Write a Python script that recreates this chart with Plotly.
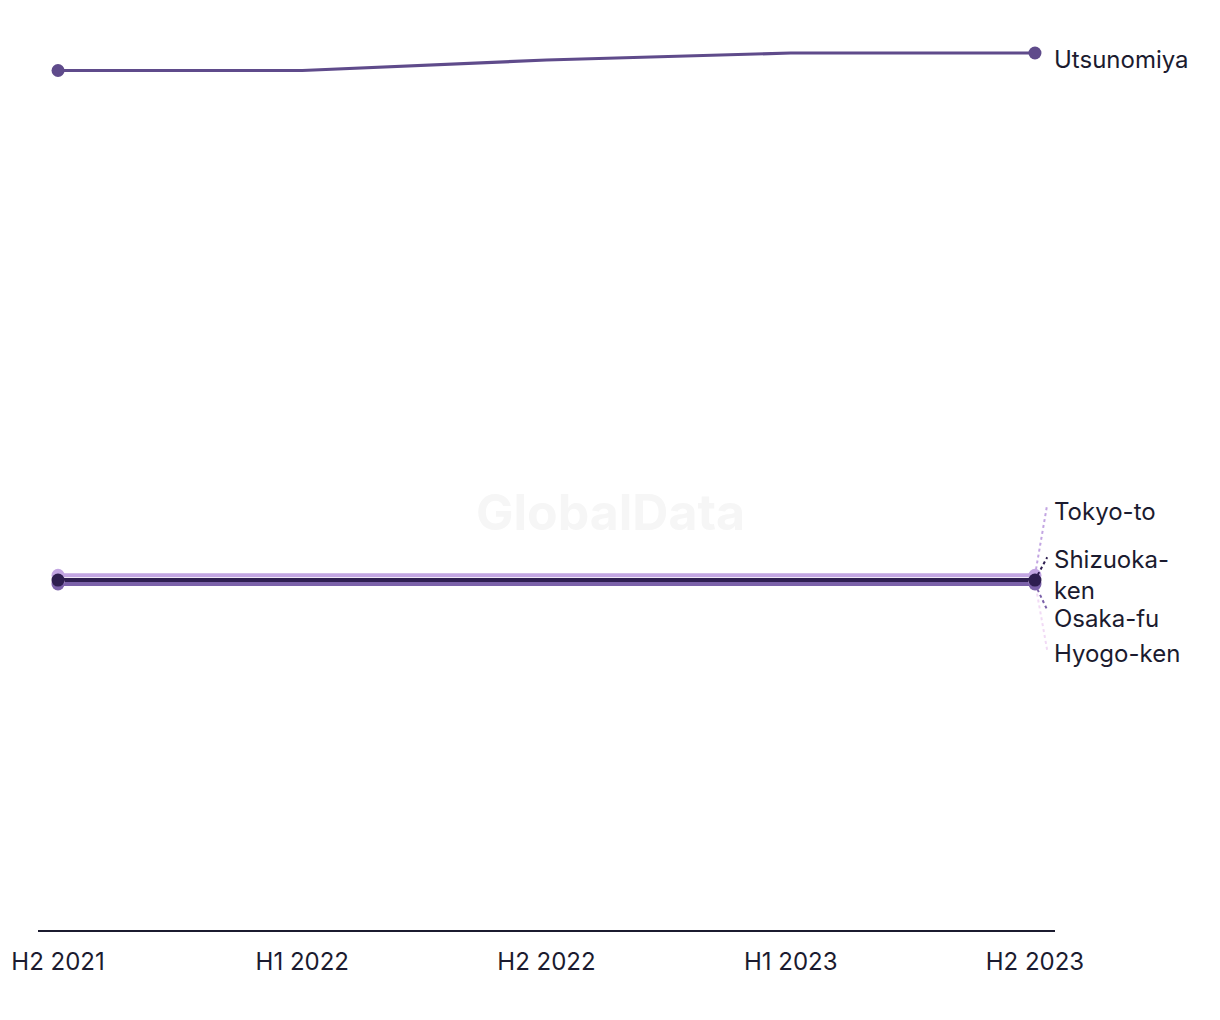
import plotly.graph_objects as go

periods = ["H2 2021", "H1 2022", "H2 2022", "H1 2023", "H2 2023"]
utsunomiya = [98.0, 98.0, 99.2, 100.0, 100.0]
tokyo = [40.45, 40.45, 40.45, 40.45, 40.45]
hyogo = [39.7, 39.7, 39.7, 39.7, 39.7]
osaka = [39.45, 39.45, 39.45, 39.45, 39.45]
shizuoka = [39.9, 39.9, 39.9, 39.9, 39.9]

# name, values, color, label y, leader end y
series = [
    ("Hyogo-ken", hyogo, "#f1daf5", 31.5, 31.9),
    ("Tokyo-to", tokyo, "#c2a5e2", 47.7, 48.5),
    ("Osaka-fu", osaka, "#7b61a9", 35.55, 36.5),
    ("Shizuoka-ken", shizuoka, "#2e1e50", 40.45, 42.5),
    ("Utsunomiya", utsunomiya, "#5f4b8b", 99.2, None),
]
label_text = {"Shizuoka-ken": "Shizuoka-<br>ken"}

xi = list(range(len(periods)))
fig = go.Figure()
for name, vals, color, ly, le in series:
    fig.add_trace(go.Scatter(
        x=xi, y=vals, mode="lines", line=dict(color=color, width=4 if name != "Utsunomiya" else 3.2),
        showlegend=False, hoverinfo="skip"))
for name, vals, color, ly, le in series:
    fig.add_trace(go.Scatter(
        x=[xi[0], xi[-1]], y=[vals[0], vals[-1]], mode="markers",
        marker=dict(color=color, size=13), showlegend=False, hoverinfo="skip"))
    if le is not None:
        fig.add_trace(go.Scatter(
            x=[xi[-1], xi[-1] + 0.05], y=[vals[-1], le],
            mode="lines", line=dict(color=color, width=2, dash="dot"),
            showlegend=False, hoverinfo="skip"))
    fig.add_annotation(x=xi[-1] + 0.07, y=ly, xref="x", yref="y", text=label_text.get(name, name),
                       showarrow=False, xanchor="left", yanchor="middle", align="left",
                       font=dict(size=24, color="#1b1b2f", family="Inter"))

fig.add_annotation(x=0.5625, y=0.459, xref="paper", yref="paper", text="<b>GlobalData</b>",
                   showarrow=False, font=dict(size=50, color="#f6f6f6", family="Inter"))

fig.update_layout(
    width=1220, height=1020, plot_bgcolor="white", paper_bgcolor="white",
    margin=dict(l=30, r=173, t=12, b=98, autoexpand=False),
    xaxis=dict(range=[-0.082, 4.082], tickvals=xi, ticktext=periods, showgrid=False, zeroline=False,
               showline=True, linecolor="#1b1b2f", linewidth=2, ticks="", ticklen=0,
               ticklabelstandoff=9, automargin=False,
               tickfont=dict(size=24, color="#1b1b2f", family="Inter")),
    yaxis=dict(range=[0, 103.76], visible=False, showgrid=False, zeroline=False, automargin=False),
)
fig.write_html("out.html")
